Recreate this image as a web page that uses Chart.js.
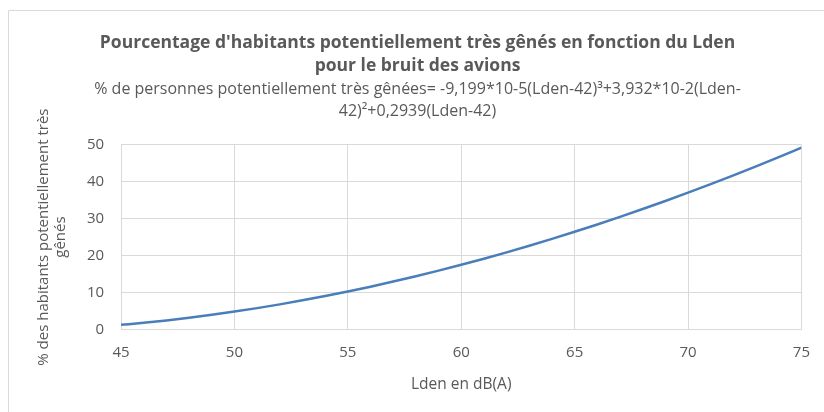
<!DOCTYPE html>
<html>
<head>
<meta charset="utf-8">
<script src="https://cdn.jsdelivr.net/npm/chart.js@4.4.1/dist/chart.umd.min.js"></script>
<style>
html,body{margin:0;padding:0;background:#fff;}
#wrap{position:relative;width:824px;height:412px;}
</style>
</head>
<body>
<div id="wrap"><canvas id="c" width="824" height="412"></canvas></div>
<script>
// Lden (dB(A))
const lden = [45,46,47,48,49,50,51,52,53,54,55,56,57,58,59,60,61,62,63,64,65,66,67,68,69,70,71,72,73,74,75];
// % de personnes potentiellement très gênées
const pctGenes = [1.23,1.80,2.44,3.16,3.95,4.82,5.76,6.78,7.87,9.03,10.26,11.57,12.95,14.39,15.91,17.49,19.15,20.87,22.66,24.52,26.44,28.43,30.49,32.61,34.79,37.04,39.35,41.72,44.16,46.65,49.21];
const xTicks = [45,50,55,60,65,70,75];
const yTicks = [0,10,20,30,40,50];

const titleLines = ["Pourcentage d'habitants potentiellement très gênés en fonction du Lden", "pour le bruit des avions"];
const subtitleLines = ["% de personnes potentiellement très gênées= -9,199*10-5(Lden-42)³+3,932*10-2(Lden-", "42)²+0,2939(Lden-42)"];
const xTitle = "Lden en dB(A)";
const yTitle = ["% des habitants potentiellement très", "gênés"];

const FONT = "'Open Sans', 'Noto Sans', sans-serif";
const TXT = '#595959';
const GRID = '#d9d9d9';

const borderPlugin = {
  id: 'frame',
  beforeDraw(chart) {
    const ctx = chart.ctx;
    ctx.save();
    ctx.fillStyle = '#fff';
    ctx.fillRect(0, 0, chart.width, chart.height);
    ctx.strokeStyle = '#d9d9d9';
    ctx.lineWidth = 1;
    ctx.beginPath();
    ctx.moveTo(8.5, chart.height);
    ctx.lineTo(8.5, 10.5);
    ctx.lineTo(chart.width, 10.5);
    ctx.stroke();
    ctx.restore();
  }
};

new Chart(document.getElementById('c'), {
  type: 'line',
  data: {
    datasets: [{
      data: lden.map((x, i) => ({x: x, y: pctGenes[i]})),
      borderColor: '#4a7ebb',
      borderWidth: 2.5,
      pointRadius: 0,
      fill: false,
      cubicInterpolationMode: 'monotone'
    }]
  },
  options: {
    responsive: false,
    animation: false,
    layout: {padding: {left: 32, right: 21, top: 0, bottom: 18}},
    plugins: {
      legend: {display: false},
      tooltip: {enabled: false},
      title: {
        display: true,
        text: titleLines,
        color: TXT,
        font: {family: FONT, size: 17.5, weight: 'bold', lineHeight: 1.28},
        padding: {top: 32, bottom: 2}
      },
      subtitle: {
        display: true,
        text: subtitleLines,
        color: TXT,
        font: {family: FONT, size: 16, weight: 'normal', lineHeight: 1.375},
        padding: {top: 0, bottom: 22}
      }
    },
    scales: {
      x: {
        type: 'linear',
        min: 45, max: 75,
        afterBuildTicks(axis) { axis.ticks = xTicks.map(v => ({value: v})); },
        grid: {color: GRID, drawTicks: false},
        border: {color: GRID},
        ticks: {color: TXT, font: {family: FONT, size: 15}, padding: 14},
        title: {display: true, text: xTitle, color: TXT, font: {family: FONT, size: 15.5}, padding: {top: 0, bottom: 0}}
      },
      y: {
        type: 'linear',
        min: 0, max: 50,
        afterBuildTicks(axis) { axis.ticks = yTicks.map(v => ({value: v})); },
        grid: {color: GRID, drawTicks: false},
        border: {color: GRID},
        ticks: {color: TXT, font: {family: FONT, size: 15}, padding: 17},
        title: {display: true, text: yTitle, color: TXT, font: {family: FONT, size: 15, lineHeight: 1.13}, padding: {top: 3, bottom: 1}}
      }
    }
  },
  plugins: [borderPlugin]
});
</script>
</body>
</html>
